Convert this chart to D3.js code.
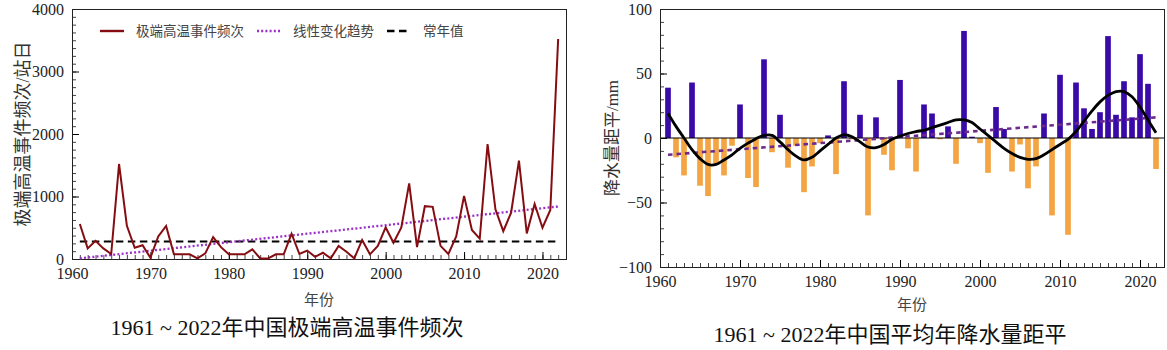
<!DOCTYPE html>
<html>
<head>
<meta charset="utf-8">
<script src="https://cdn.jsdelivr.net/npm/d3@7"></script>
<style>
  body { margin: 0; background: #fff; }
  svg { display: block; }
</style>
</head>
<body>
<svg id="chart" width="1167" height="350"></svg>
<script>
// ---- data ----
const years = d3.range(1961, 2023);
const decadeTicks = [1960, 1970, 1980, 1990, 2000, 2010, 2020];

const heatEvents = [
  560, 170, 290, 170, 80, 1520, 530, 180, 220, 20,
  360, 530, 75, 75, 75, 10, 90, 350, 190, 75,
  75, 75, 155, 10, 10, 75, 75, 405, 80, 135,
  35, 100, 10, 210, 115, 10, 305, 75, 210, 505,
  260, 505, 1210, 190, 845, 835, 210, 80, 360, 1010,
  465, 325, 1840, 795, 445, 740, 1575, 410, 880, 500,
  785, 3520,
];
const heatTrendYears = [1961, 2022];
const heatTrendValues = [10, 840];
const heatNormal = 280;
const heatYTicks = [0, 1000, 2000, 3000, 4000];
const legendLabels = ['极端高温事件频次', '线性变化趋势', '常年值'];

const precipAnomaly = [
  39, -15, -29, 43, -37, -45, -20, -29, -6, 26,
  -31, -38, 61, -11, 18, -23, -6, -42, -22, -4,
  2, -28, 44, -1, 18, -60, 16, -13, -25, 45,
  -8, -26, 26, 19, -1, 9, -20, 83, 1, -4,
  -27, 24, 7, -26, -5, -39, -22, 19, -60, 49,
  -75, 43, 23, 7, 20, 79, 18, 44, 16, 65,
  42, -24,
];
const precipSmooth = [
  19, 9, 0, -9, -16, -20.5, -20.5, -17, -13, -8,
  -4, -0.5, 2, 2, -3, -9, -14, -17, -15, -10,
  -5, 0, 2.5, 1, -3, -7, -7.5, -5, -1, 1.5,
  3.5, 5, 6, 8, 10, 12, 14, 14, 12, 7,
  2, -3, -8, -12, -15, -16.5, -16, -13, -9, -5,
  -1, 5, 13, 21, 28, 33, 36, 36, 32, 24,
  14, 4,
];
const precipTrendYears = [1961, 2022];
const precipTrendValues = [-13, 16];
const precipYTicks = [-100, -50, 0, 50, 100];

const SERIF = "'Liberation Serif', 'Times New Roman', 'Noto Sans CJK SC', serif";
const CJK = "'Noto Sans CJK SC', sans-serif";

const svg = d3.select('#chart');

// shared axis drawing: inward ticks, minor + major, frame box
function drawAxes(g, x, y, cfg) {
  const w = cfg.width;
  const h = cfg.height;

  g.append('g')
    .attr('transform', `translate(0,${h})`)
    .call(d3.axisBottom(x).tickValues(years).tickSize(-4).tickFormat(''))
    .call((a) => a.select('.domain').remove())
    .selectAll('line').attr('stroke', '#444');

  g.append('g')
    .attr('transform', `translate(0,${h})`)
    .call(d3.axisBottom(x).tickValues(decadeTicks).tickSize(-7).tickPadding(9).tickFormat(d3.format('d')))
    .call((a) => a.select('.domain').remove())
    .call((a) => a.selectAll('text').attr('font-size', 16).attr('font-family', SERIF).attr('fill', '#222'));

  g.append('g')
    .call(d3.axisLeft(y).tickValues(cfg.minorY).tickSize(-4).tickFormat(''))
    .call((a) => a.select('.domain').remove())
    .selectAll('line').attr('stroke', '#444');

  g.append('g')
    .call(d3.axisLeft(y).tickValues(cfg.majorY).tickSize(-7).tickPadding(8).tickFormat(d3.format('d')))
    .call((a) => a.select('.domain').remove())
    .call((a) => a.selectAll('text').attr('font-size', 16).attr('font-family', SERIF).attr('fill', '#222'));

  g.append('rect')
    .attr('x', 0.5).attr('y', 0.5)
    .attr('width', w).attr('height', h)
    .attr('fill', 'none')
    .attr('stroke', '#222')
    .attr('stroke-width', 1);
}

class HeatChart {
  constructor(config) {
    this.config = config;
    this.initVis();
  }

  initVis() {
    const vis = this;
    const c = vis.config;
    vis.g = svg.append('g').attr('transform', `translate(${c.left},${c.top})`);

    vis.x = d3.scaleLinear().domain([1960, 2023]).range([0, c.width]);
    vis.y = d3.scaleLinear().domain([0, 4000]).range([c.height, 0]);

    drawAxes(vis.g, vis.x, vis.y, {
      width: c.width,
      height: c.height,
      majorY: heatYTicks,
      minorY: d3.range(0, 4001, 125),
    });
    vis.renderVis();
  }

  renderVis() {
    const vis = this;
    const c = vis.config;

    // 常年值
    vis.g.append('line')
      .attr('x1', vis.x(1961)).attr('x2', vis.x(2022))
      .attr('y1', vis.y(heatNormal)).attr('y2', vis.y(heatNormal))
      .attr('stroke', '#000')
      .attr('stroke-width', 2.2)
      .attr('stroke-dasharray', '7.5,4.5');

    // trend
    vis.g.append('path')
      .datum(heatTrendYears.map((d, i) => [d, heatTrendValues[i]]))
      .attr('fill', 'none')
      .attr('stroke', '#9b2fc9')
      .attr('stroke-width', 2.3)
      .attr('stroke-dasharray', '2,2.2')
      .attr('d', d3.line().x((d) => vis.x(d[0])).y((d) => vis.y(d[1])));

    vis.g.append('path')
      .datum(years.map((d, i) => [d, heatEvents[i]]))
      .attr('fill', 'none')
      .attr('stroke', '#850d12')
      .attr('stroke-width', 2)
      .attr('stroke-linejoin', 'miter')
      .attr('d', d3.line().x((d) => vis.x(d[0])).y((d) => vis.y(d[1])));

    // legend
    const legend = svg.append('g').attr('transform', 'translate(0,31)');
    const items = [
      { x: 100, stroke: '#850d12', dash: null, w: 2.4 },
      { x: 257, stroke: '#9b2fc9', dash: '2,2.2', w: 2.3 },
      { x: 387, stroke: '#000', dash: '7.5,4.5', w: 2.4 },
    ];
    items.forEach((it, i) => {
      legend.append('line')
        .attr('x1', it.x).attr('x2', it.x + 24)
        .attr('stroke', it.stroke)
        .attr('stroke-width', it.w)
        .attr('stroke-dasharray', it.dash);
      legend.append('text')
        .attr('x', it.x + 36)
        .attr('dy', '0.35em')
        .attr('font-family', CJK)
        .attr('font-size', 13.5)
        .attr('fill', '#444')
        .text(legendLabels[i]);
    });

    svg.append('text')
      .attr('transform', `translate(23,${c.top + c.height / 2}) rotate(-90)`)
      .attr('text-anchor', 'middle')
      .attr('dy', '0.35em')
      .attr('font-family', SERIF)
      .attr('font-size', 18)
      .attr('fill', '#333')
      .text('极端高温事件频次/站日');

    svg.append('text')
      .attr('x', c.left + c.width / 2)
      .attr('y', 300)
      .attr('text-anchor', 'middle')
      .attr('dy', '0.35em')
      .attr('font-family', CJK)
      .attr('font-size', 15)
      .attr('fill', '#444')
      .text('年份');

    svg.append('text')
      .attr('x', 287)
      .attr('y', 327)
      .attr('text-anchor', 'middle')
      .attr('dy', '0.35em')
      .attr('font-family', SERIF)
      .attr('font-size', 22)
      .attr('fill', '#111')
      .text('1961 ~ 2022年中国极端高温事件频次');
  }
}

class PrecipChart {
  constructor(config) {
    this.config = config;
    this.initVis();
  }

  initVis() {
    const vis = this;
    const c = vis.config;
    vis.g = svg.append('g').attr('transform', `translate(${c.left},${c.top})`);

    vis.x = d3.scaleLinear().domain([1960, 2023]).range([0, c.width]);
    vis.y = d3.scaleLinear().domain([-100, 100]).range([c.height, 0]);

    vis.renderVis();
    drawAxes(vis.g, vis.x, vis.y, {
      width: c.width,
      height: c.height,
      majorY: precipYTicks,
      minorY: d3.range(-100, 101, 10),
    });
  }

  renderVis() {
    const vis = this;
    const c = vis.config;
    const barW = (vis.x(1961) - vis.x(1960)) * 0.71;

    vis.g.selectAll('.bar')
      .data(years.map((d, i) => [d, precipAnomaly[i]]))
      .enter()
      .append('rect')
      .attr('class', 'bar')
      .attr('x', (d) => vis.x(d[0]) - barW / 2)
      .attr('y', (d) => vis.y(Math.max(0, d[1])))
      .attr('width', barW)
      .attr('height', (d) => Math.abs(vis.y(d[1]) - vis.y(0)))
      .attr('fill', (d) => (d[1] >= 0 ? '#3a0aa8' : '#f3a443'));

    vis.g.append('line')
      .attr('x1', 0).attr('x2', c.width)
      .attr('y1', vis.y(0)).attr('y2', vis.y(0))
      .attr('stroke', '#000')
      .attr('stroke-width', 1.2);

    vis.g.append('path')
      .datum(precipTrendYears.map((d, i) => [d, precipTrendValues[i]]))
      .attr('fill', 'none')
      .attr('stroke', '#6b2a8c')
      .attr('stroke-width', 2.6)
      .attr('stroke-dasharray', '4.5,4')
      .attr('d', d3.line().x((d) => vis.x(d[0])).y((d) => vis.y(d[1])));

    vis.g.append('path')
      .datum(years.map((d, i) => [d, precipSmooth[i]]))
      .attr('fill', 'none')
      .attr('stroke', '#000')
      .attr('stroke-width', 2.8)
      .attr('d', d3.line().curve(d3.curveCatmullRom).x((d) => vis.x(d[0])).y((d) => vis.y(d[1])));

    svg.append('text')
      .attr('transform', `translate(612,${c.top + c.height / 2}) rotate(-90)`)
      .attr('text-anchor', 'middle')
      .attr('dy', '0.35em')
      .attr('font-family', SERIF)
      .attr('font-size', 17)
      .attr('fill', '#333')
      .text('降水量距平/mm');

    svg.append('text')
      .attr('x', c.left + c.width / 2)
      .attr('y', 305)
      .attr('text-anchor', 'middle')
      .attr('dy', '0.35em')
      .attr('font-family', CJK)
      .attr('font-size', 15)
      .attr('fill', '#444')
      .text('年份');

    svg.append('text')
      .attr('x', 890)
      .attr('y', 334)
      .attr('text-anchor', 'middle')
      .attr('dy', '0.35em')
      .attr('font-family', SERIF)
      .attr('font-size', 22)
      .attr('fill', '#111')
      .text('1961 ~ 2022年中国平均年降水量距平');
  }
}

new HeatChart({ left: 72, top: 9, width: 494, height: 250 });
new PrecipChart({ left: 660, top: 9, width: 504, height: 258 });
</script>
</body>
</html>
